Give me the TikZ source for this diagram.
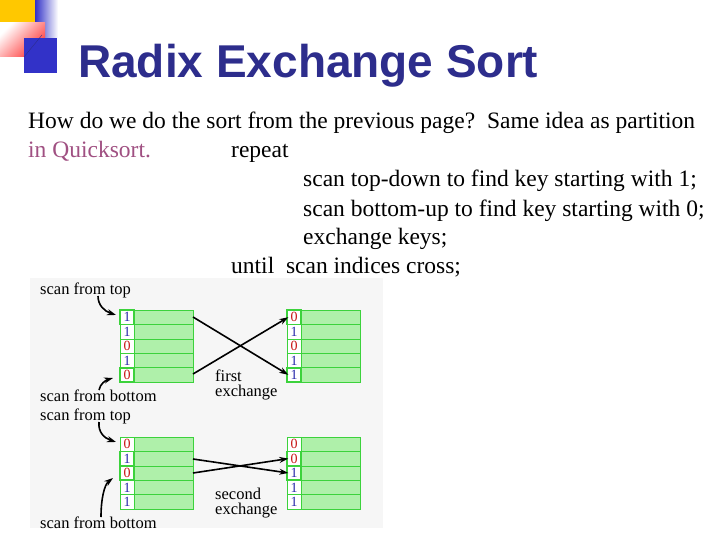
\documentclass[tikz,border=0pt]{standalone}
\usepackage{fontspec}
\usetikzlibrary{arrows.meta}
\setmainfont{Liberation Serif}
\newfontfamily\titlefont{Liberation Sans}
\definecolor{titleblue}{RGB}{45,45,140}
\definecolor{logoblue}{RGB}{50,50,200}
\definecolor{logoyel}{RGB}{255,200,0}
\definecolor{qpink}{RGB}{160,80,130}
\definecolor{cellgreen}{RGB}{175,240,170}
\definecolor{linegreen}{RGB}{60,210,60}
\definecolor{dred}{RGB}{200,20,20}
\definecolor{dblue}{RGB}{40,40,170}
\definecolor{panelbg}{RGB}{246,246,246}
\tikzset{
 body/.style={anchor=base west,inner sep=0pt,font=\fontsize{23.5}{26}\selectfont},
 small/.style={anchor=base west,inner sep=0pt,font=\fontsize{16.5}{17}\selectfont},
 arr/.style={-{Stealth[length=9pt,width=6pt]},line width=1.6pt},
 digit/.style={font=\fontsize{14}{14}\selectfont,inner sep=0pt}
}
\begin{document}
\begin{tikzpicture}[x=1pt,y=-1pt]
\useasboundingbox (0,0) rectangle (720,540);
\fill[white] (0,0) rectangle (720,540);
% logo
\fill[logoyel] (0,0) rectangle (35,23);
\shade[left color=logoblue,right color=white] (35,0) rectangle (58,38);
\shade[left color=white,right color=red!80, shading angle=45] (0,23) rectangle (45,57);
\fill[logoblue] (24,38) rectangle (57,73);
\draw[titleblue,thin] (24,57) -- (42,35);
\node[anchor=base west,inner sep=0pt,text=titleblue,font=\titlefont\bfseries\fontsize{46}{48}\selectfont] (title) at (78,78) {Radix Exchange Sort};
% text
\node[body] (l1) at (28,129) {How do we do the sort from the previous page?\ \ Same idea as partition};
\node[body,text=qpink] (l2) at (28,158) {in Quicksort.};
\node[body] (l2b) at (231,158) {repeat};
\node[body] (l3) at (303,187) {scan top-down to find key starting with 1;};
\node[body] (l4) at (303,216) {scan bottom-up to find key starting with 0;};
\node[body] (l5) at (303,244) {exchange keys;};
\node[body] (l6) at (231,273) {until\ \ scan indices cross;};
% panel
\fill[panelbg] (30,278) rectangle (383,528);
\foreach \tx/\ty/\digs/\hl [count=\t] in {120/310/{1,1,0,1,0}/{1,5}, 287/310/{0,1,0,1,1}/{1,5}, 120/437/{0,1,0,1,1}/{2,3}, 287/437/{0,0,1,1,1}/{2,3}}{
  \fill[cellgreen] (\tx+14,\ty) rectangle (\tx+73,\ty+72);
  \fill[white] (\tx,\ty) rectangle (\tx+14,\ty+72);
  \foreach \r in {1,...,4} \draw[linegreen,line width=0.6pt] (\tx,\ty+14.4*\r) -- (\tx+73,\ty+14.4*\r);
  \draw[linegreen,line width=0.8pt] (\tx,\ty) rectangle (\tx+73,\ty+72);
  \draw[linegreen,line width=0.6pt] (\tx+14,\ty) -- (\tx+14,\ty+72);
  \foreach \d [count=\r] in \digs {
    \ifnum\d=1 \def\dc{dblue}\else\def\dc{dred}\fi
    \node[digit,text=\dc] (t\t r\r) at (\tx+7,\ty+14.4*\r-7.2) {\d};
  }
  \foreach \h in \hl \draw[linegreen,line width=1.8pt] (\tx,\ty+14.4*\h-14.4) rectangle (\tx+14,\ty+14.4*\h);
}
\node[small] (s1) at (40,294) {scan from top};
\node[small] (s2) at (40,401) {scan from bottom};
\node[small] (s3) at (40,420) {scan from top};
\node[small] (s4) at (40,528) {scan from bottom};
\node[small] (e1) at (215,381) {first};
\node[small] (e1b) at (215,396) {exchange};
\node[small] (e2) at (215,499) {second};
\node[small] (e2b) at (215,514) {exchange};
\coordinate (a1) at (98,296); \coordinate (b1) at (116,315);
\coordinate (a2) at (99,390); \coordinate (b2) at (113,378);
\coordinate (a3) at (99,422); \coordinate (b3) at (116,442);
\coordinate (a4) at (101,517); \coordinate (b4) at (113,478);
\draw[arr] (a1) .. controls (98,305) and (104,311) .. (b1);
\draw[arr] (a2) .. controls (100,384) and (106,380) .. (b2);
\draw[arr] (a3) .. controls (98,432) and (104,438) .. (b3);
\draw[arr] (a4) .. controls (101,500) and (104,485) .. (b4);
\coordinate (c1) at (193,317); \coordinate (c2) at (193,374);
\coordinate (c3) at (193,459); \coordinate (c4) at (193,473);
\draw[arr] (c1) -- ([xshift=-2pt]t2r5.west);
\draw[arr] (c2) -- ([xshift=-2pt]t2r1.west);
\draw[arr] (c3) -- ([xshift=-2pt]t4r3.west);
\draw[arr] (c4) -- ([xshift=-2pt]t4r2.west);
\end{tikzpicture}
\end{document}
